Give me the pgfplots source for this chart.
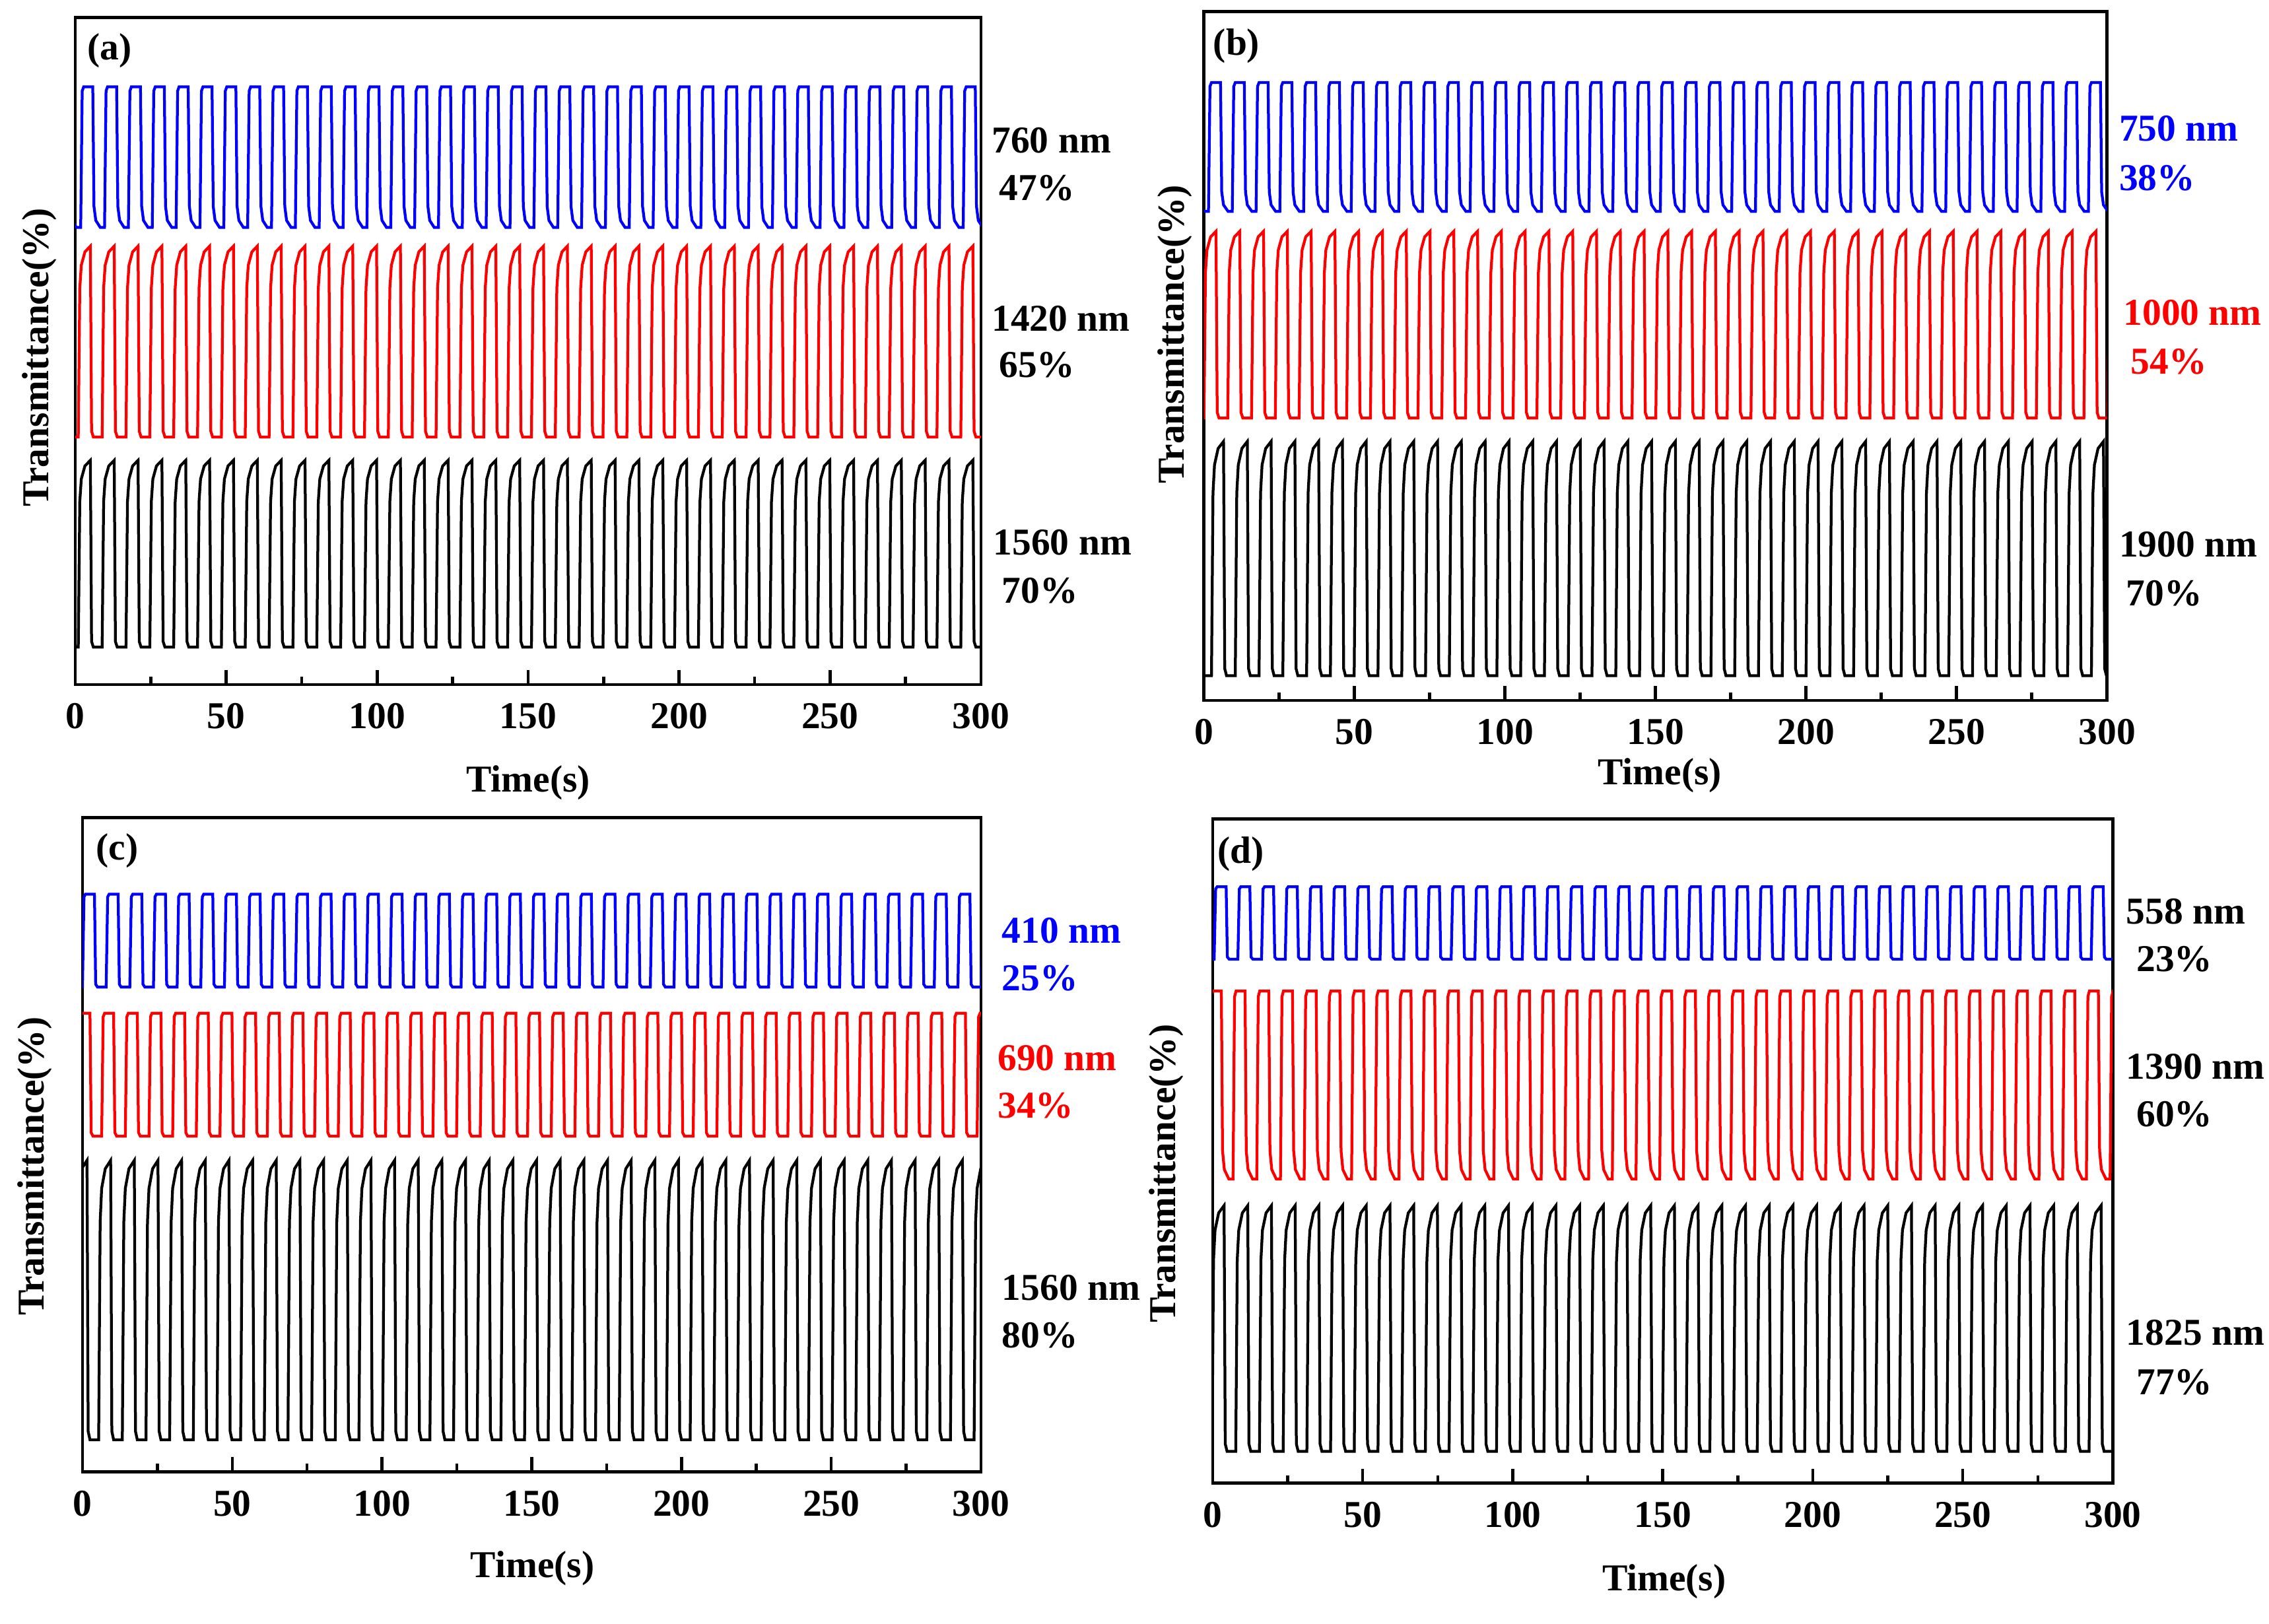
\documentclass[border=0pt]{standalone}
\usepackage{pgfplots}
\usepackage{pgfplotstable}
\pgfplotsset{compat=1.18}
\usepackage{fontspec}
\setmainfont{Liberation Serif}
\newcommand\lbl{\fontsize{11.5}{13}\selectfont\bfseries}

% one row per cycle: t, square (S), decaying bottom (D), rounded top (R), normalised 0..1
\pgfplotstableread[row sep=\\]{
t S D R\\
-7.9 0 0 0\\ -7.4 .97 .97 .78\\ -6.9 1 1 .9\\ -5.7 1 1 .97\\ -3.9 1 1 1\\ -3.5 .03 .15 .03\\ -2.9 0 .05 0\\ -1.4 0 0 0\\
0 0 0 0\\ 0.5 .97 .97 .78\\ 1.0 1 1 .9\\ 2.2 1 1 .97\\ 4.0 1 1 1\\ 4.4 .03 .15 .03\\ 5.0 0 .05 0\\ 6.5 0 0 0\\
7.9 0 0 0\\ 8.4 .97 .97 .78\\ 8.9 1 1 .9\\ 10.1 1 1 .97\\ 11.9 1 1 1\\ 12.3 .03 .15 .03\\ 12.9 0 .05 0\\ 14.4 0 0 0\\
15.8 0 0 0\\ 16.3 .97 .97 .78\\ 16.8 1 1 .9\\ 18.0 1 1 .97\\ 19.8 1 1 1\\ 20.2 .03 .15 .03\\ 20.8 0 .05 0\\ 22.3 0 0 0\\
23.7 0 0 0\\ 24.2 .97 .97 .78\\ 24.7 1 1 .9\\ 25.9 1 1 .97\\ 27.7 1 1 1\\ 28.1 .03 .15 .03\\ 28.7 0 .05 0\\ 30.2 0 0 0\\
31.6 0 0 0\\ 32.1 .97 .97 .78\\ 32.6 1 1 .9\\ 33.8 1 1 .97\\ 35.6 1 1 1\\ 36.0 .03 .15 .03\\ 36.6 0 .05 0\\ 38.1 0 0 0\\
39.5 0 0 0\\ 40.0 .97 .97 .78\\ 40.5 1 1 .9\\ 41.7 1 1 .97\\ 43.5 1 1 1\\ 43.9 .03 .15 .03\\ 44.5 0 .05 0\\ 46.0 0 0 0\\
47.4 0 0 0\\ 47.9 .97 .97 .78\\ 48.4 1 1 .9\\ 49.6 1 1 .97\\ 51.4 1 1 1\\ 51.8 .03 .15 .03\\ 52.4 0 .05 0\\ 53.9 0 0 0\\
55.3 0 0 0\\ 55.8 .97 .97 .78\\ 56.3 1 1 .9\\ 57.5 1 1 .97\\ 59.3 1 1 1\\ 59.7 .03 .15 .03\\ 60.3 0 .05 0\\ 61.8 0 0 0\\
63.2 0 0 0\\ 63.7 .97 .97 .78\\ 64.2 1 1 .9\\ 65.4 1 1 .97\\ 67.2 1 1 1\\ 67.6 .03 .15 .03\\ 68.2 0 .05 0\\ 69.7 0 0 0\\
71.1 0 0 0\\ 71.6 .97 .97 .78\\ 72.1 1 1 .9\\ 73.3 1 1 .97\\ 75.1 1 1 1\\ 75.5 .03 .15 .03\\ 76.1 0 .05 0\\ 77.6 0 0 0\\
79.0 0 0 0\\ 79.5 .97 .97 .78\\ 80.0 1 1 .9\\ 81.2 1 1 .97\\ 83.0 1 1 1\\ 83.4 .03 .15 .03\\ 84.0 0 .05 0\\ 85.5 0 0 0\\
86.9 0 0 0\\ 87.4 .97 .97 .78\\ 87.9 1 1 .9\\ 89.1 1 1 .97\\ 90.9 1 1 1\\ 91.3 .03 .15 .03\\ 91.9 0 .05 0\\ 93.4 0 0 0\\
94.8 0 0 0\\ 95.3 .97 .97 .78\\ 95.8 1 1 .9\\ 97.0 1 1 .97\\ 98.8 1 1 1\\ 99.2 .03 .15 .03\\ 99.8 0 .05 0\\ 101.3 0 0 0\\
102.7 0 0 0\\ 103.2 .97 .97 .78\\ 103.7 1 1 .9\\ 104.9 1 1 .97\\ 106.7 1 1 1\\ 107.1 .03 .15 .03\\ 107.7 0 .05 0\\ 109.2 0 0 0\\
110.6 0 0 0\\ 111.1 .97 .97 .78\\ 111.6 1 1 .9\\ 112.8 1 1 .97\\ 114.6 1 1 1\\ 115.0 .03 .15 .03\\ 115.6 0 .05 0\\ 117.1 0 0 0\\
118.5 0 0 0\\ 119.0 .97 .97 .78\\ 119.5 1 1 .9\\ 120.7 1 1 .97\\ 122.5 1 1 1\\ 122.9 .03 .15 .03\\ 123.5 0 .05 0\\ 125.0 0 0 0\\
126.4 0 0 0\\ 126.9 .97 .97 .78\\ 127.4 1 1 .9\\ 128.6 1 1 .97\\ 130.4 1 1 1\\ 130.8 .03 .15 .03\\ 131.4 0 .05 0\\ 132.9 0 0 0\\
134.3 0 0 0\\ 134.8 .97 .97 .78\\ 135.3 1 1 .9\\ 136.5 1 1 .97\\ 138.3 1 1 1\\ 138.7 .03 .15 .03\\ 139.3 0 .05 0\\ 140.8 0 0 0\\
142.2 0 0 0\\ 142.7 .97 .97 .78\\ 143.2 1 1 .9\\ 144.4 1 1 .97\\ 146.2 1 1 1\\ 146.6 .03 .15 .03\\ 147.2 0 .05 0\\ 148.7 0 0 0\\
150.1 0 0 0\\ 150.6 .97 .97 .78\\ 151.1 1 1 .9\\ 152.3 1 1 .97\\ 154.1 1 1 1\\ 154.5 .03 .15 .03\\ 155.1 0 .05 0\\ 156.6 0 0 0\\
158.0 0 0 0\\ 158.5 .97 .97 .78\\ 159.0 1 1 .9\\ 160.2 1 1 .97\\ 162.0 1 1 1\\ 162.4 .03 .15 .03\\ 163.0 0 .05 0\\ 164.5 0 0 0\\
165.9 0 0 0\\ 166.4 .97 .97 .78\\ 166.9 1 1 .9\\ 168.1 1 1 .97\\ 169.9 1 1 1\\ 170.3 .03 .15 .03\\ 170.9 0 .05 0\\ 172.4 0 0 0\\
173.8 0 0 0\\ 174.3 .97 .97 .78\\ 174.8 1 1 .9\\ 176.0 1 1 .97\\ 177.8 1 1 1\\ 178.2 .03 .15 .03\\ 178.8 0 .05 0\\ 180.3 0 0 0\\
181.7 0 0 0\\ 182.2 .97 .97 .78\\ 182.7 1 1 .9\\ 183.9 1 1 .97\\ 185.7 1 1 1\\ 186.1 .03 .15 .03\\ 186.7 0 .05 0\\ 188.2 0 0 0\\
189.6 0 0 0\\ 190.1 .97 .97 .78\\ 190.6 1 1 .9\\ 191.8 1 1 .97\\ 193.6 1 1 1\\ 194.0 .03 .15 .03\\ 194.6 0 .05 0\\ 196.1 0 0 0\\
197.5 0 0 0\\ 198.0 .97 .97 .78\\ 198.5 1 1 .9\\ 199.7 1 1 .97\\ 201.5 1 1 1\\ 201.9 .03 .15 .03\\ 202.5 0 .05 0\\ 204.0 0 0 0\\
205.4 0 0 0\\ 205.9 .97 .97 .78\\ 206.4 1 1 .9\\ 207.6 1 1 .97\\ 209.4 1 1 1\\ 209.8 .03 .15 .03\\ 210.4 0 .05 0\\ 211.9 0 0 0\\
213.3 0 0 0\\ 213.8 .97 .97 .78\\ 214.3 1 1 .9\\ 215.5 1 1 .97\\ 217.3 1 1 1\\ 217.7 .03 .15 .03\\ 218.3 0 .05 0\\ 219.8 0 0 0\\
221.2 0 0 0\\ 221.7 .97 .97 .78\\ 222.2 1 1 .9\\ 223.4 1 1 .97\\ 225.2 1 1 1\\ 225.6 .03 .15 .03\\ 226.2 0 .05 0\\ 227.7 0 0 0\\
229.1 0 0 0\\ 229.6 .97 .97 .78\\ 230.1 1 1 .9\\ 231.3 1 1 .97\\ 233.1 1 1 1\\ 233.5 .03 .15 .03\\ 234.1 0 .05 0\\ 235.6 0 0 0\\
237.0 0 0 0\\ 237.5 .97 .97 .78\\ 238.0 1 1 .9\\ 239.2 1 1 .97\\ 241.0 1 1 1\\ 241.4 .03 .15 .03\\ 242.0 0 .05 0\\ 243.5 0 0 0\\
244.9 0 0 0\\ 245.4 .97 .97 .78\\ 245.9 1 1 .9\\ 247.1 1 1 .97\\ 248.9 1 1 1\\ 249.3 .03 .15 .03\\ 249.9 0 .05 0\\ 251.4 0 0 0\\
252.8 0 0 0\\ 253.3 .97 .97 .78\\ 253.8 1 1 .9\\ 255.0 1 1 .97\\ 256.8 1 1 1\\ 257.2 .03 .15 .03\\ 257.8 0 .05 0\\ 259.3 0 0 0\\
260.7 0 0 0\\ 261.2 .97 .97 .78\\ 261.7 1 1 .9\\ 262.9 1 1 .97\\ 264.7 1 1 1\\ 265.1 .03 .15 .03\\ 265.7 0 .05 0\\ 267.2 0 0 0\\
268.6 0 0 0\\ 269.1 .97 .97 .78\\ 269.6 1 1 .9\\ 270.8 1 1 .97\\ 272.6 1 1 1\\ 273.0 .03 .15 .03\\ 273.6 0 .05 0\\ 275.1 0 0 0\\
276.5 0 0 0\\ 277.0 .97 .97 .78\\ 277.5 1 1 .9\\ 278.7 1 1 .97\\ 280.5 1 1 1\\ 280.9 .03 .15 .03\\ 281.5 0 .05 0\\ 283.0 0 0 0\\
284.4 0 0 0\\ 284.9 .97 .97 .78\\ 285.4 1 1 .9\\ 286.6 1 1 .97\\ 288.4 1 1 1\\ 288.8 .03 .15 .03\\ 289.4 0 .05 0\\ 290.9 0 0 0\\
292.3 0 0 0\\ 292.8 .97 .97 .78\\ 293.3 1 1 .9\\ 294.5 1 1 .97\\ 296.3 1 1 1\\ 296.7 .03 .15 .03\\ 297.3 0 .05 0\\ 298.8 0 0 0\\
300.2 0 0 0\\ 300.7 .97 .97 .78\\ 301.2 1 1 .9\\ 302.4 1 1 .97\\ 304.2 1 1 1\\ 304.6 .03 .15 .03\\ 305.2 0 .05 0\\ 306.7 0 0 0\\
}\cyc

\pgfplotsset{
  panel/.style={
    scale only axis,
    anchor=north west,
    xmin=0, xmax=300, ymin=0, ymax=100,
    xtick={0,50,...,300},
    minor x tick num=1,
    xtick pos=bottom,
    ytick=\empty,
    tick align=inside,
    major tick length=4.4pt,
    minor tick length=2.4pt,
    every tick/.style={black, line width=0.9pt},
    axis line style={black, line width=0.9pt},
    tick label style={font=\lbl},
    /pgf/number format/assume math mode=true,
    xticklabel style={anchor=center, yshift=-9.6pt, inner sep=0pt},
  },
  trace/.style={line width=0.85pt},
}

\begin{document}
\begin{tikzpicture}
\useasboundingbox (0pt,0pt) rectangle (687.4pt,-491.9pt);

% (a)
\begin{axis}[panel, at={(22.80pt,-5.26pt)}, width=274.4pt, height=202.1pt]
\addplot[trace, blue] table[x expr=\thisrow{t}+1.8, y expr=68.5+21.1*\thisrow{D}] {\cyc};
\addplot[trace, red] table[x expr=\thisrow{t}+1.0, y expr=37.1+28.6*\thisrow{R}] {\cyc};
\addplot[trace, black] table[x expr=\thisrow{t}+1.0, y expr=5.6+28.0*\thisrow{R}] {\cyc};
\end{axis}

% (b)
\begin{axis}[panel, at={(364.74pt,-3.51pt)}, width=273.6pt, height=208.7pt]
\addplot[trace, blue] table[x expr=\thisrow{t}+1.5, y expr=71.0+18.7*\thisrow{D}] {\cyc};
\addplot[trace, red] table[x expr=\thisrow{t}+0.0, y expr=41.0+27.1*\thisrow{R}] {\cyc};
\addplot[trace, black] table[x expr=\thisrow{t}+2.5, y expr=3.6+34.0*\thisrow{R}] {\cyc};
\end{axis}

% (c)
\begin{axis}[panel, at={(24.99pt,-247.69pt)}, width=272.2pt, height=198.2pt]
\addplot[trace, blue] table[x expr=\thisrow{t}+0.0, y expr=74.1+14.2*\thisrow{S}] {\cyc};
\addplot[trace, red] table[x expr=\thisrow{t}-1.5, y expr=51.3+18.8*\thisrow{S}] {\cyc};
\addplot[trace, black] table[x expr=\thisrow{t}-2.5, y expr=4.9+42.7*\thisrow{R}] {\cyc};
\end{axis}

% (d)
\begin{axis}[panel, at={(367.37pt,-248.13pt)}, width=272.7pt, height=201.2pt]
\addplot[trace, blue] table[x expr=\thisrow{t}+0.5, y expr=78.9+10.9*\thisrow{S}] {\cyc};
\addplot[trace, red] table[x expr=\thisrow{t}-1.1, y expr=45.8+28.3*\thisrow{D}] {\cyc};
\addplot[trace, black] table[x expr=\thisrow{t}-0.2, y expr=4.8+37.0*\thisrow{R}] {\cyc};
\end{axis}

\begin{scope}[x=0.43839pt, y=-0.43839pt, every node/.style={inner sep=0pt, font=\lbl}]
% panel letters
\node[anchor=west] at (60,35) {(a)};
\node[anchor=west] at (838,32) {(b)};
\node[anchor=west] at (66,588) {(c)};
\node[anchor=west] at (841,590) {(d)};
% axis titles
\node at (365,541) {Time(s)};
\node at (1147,536) {Time(s)};
\node at (368,1084) {Time(s)};
\node at (1150,1093) {Time(s)};
\node[rotate=90] at (27,247) {Transmittance(\%)};
\node[rotate=90] at (812,231) {Transmittance(\%)};
\node[rotate=90] at (24,806) {Transmittance(\%)};
\node[rotate=90] at (806,811) {Transmittance(\%)};
% (a) labels
\node[anchor=west] at (685,97) {760 nm};
\node[anchor=west] at (690,130) {47\%};
\node[anchor=west] at (685,220) {1420 nm};
\node[anchor=west] at (690,252) {65\%};
\node[anchor=west] at (686,375) {1560 nm};
\node[anchor=west] at (692,408) {70\%};
% (b) labels
\node[anchor=west, text=blue] at (1464,89) {750 nm};
\node[anchor=west, text=blue] at (1464,123) {38\%};
\node[anchor=west, text=red] at (1467,216) {1000 nm};
\node[anchor=west, text=red] at (1472,250) {54\%};
\node[anchor=west] at (1464,376) {1900 nm};
\node[anchor=west] at (1469,410) {70\%};
% (c) labels
\node[anchor=west, text=blue] at (692,643) {410 nm};
\node[anchor=west, text=blue] at (692,676) {25\%};
\node[anchor=west, text=red] at (689,731) {690 nm};
\node[anchor=west, text=red] at (689,764) {34\%};
\node[anchor=west] at (692,890) {1560 nm};
\node[anchor=west] at (692,923) {80\%};
% (d) labels
\node[anchor=west] at (1469,630) {558 nm};
\node[anchor=west] at (1476,663) {23\%};
\node[anchor=west] at (1469,737) {1390 nm};
\node[anchor=west] at (1476,770) {60\%};
\node[anchor=west] at (1469,921) {1825 nm};
\node[anchor=west] at (1476,955) {77\%};
\end{scope}
\end{tikzpicture}
\end{document}
